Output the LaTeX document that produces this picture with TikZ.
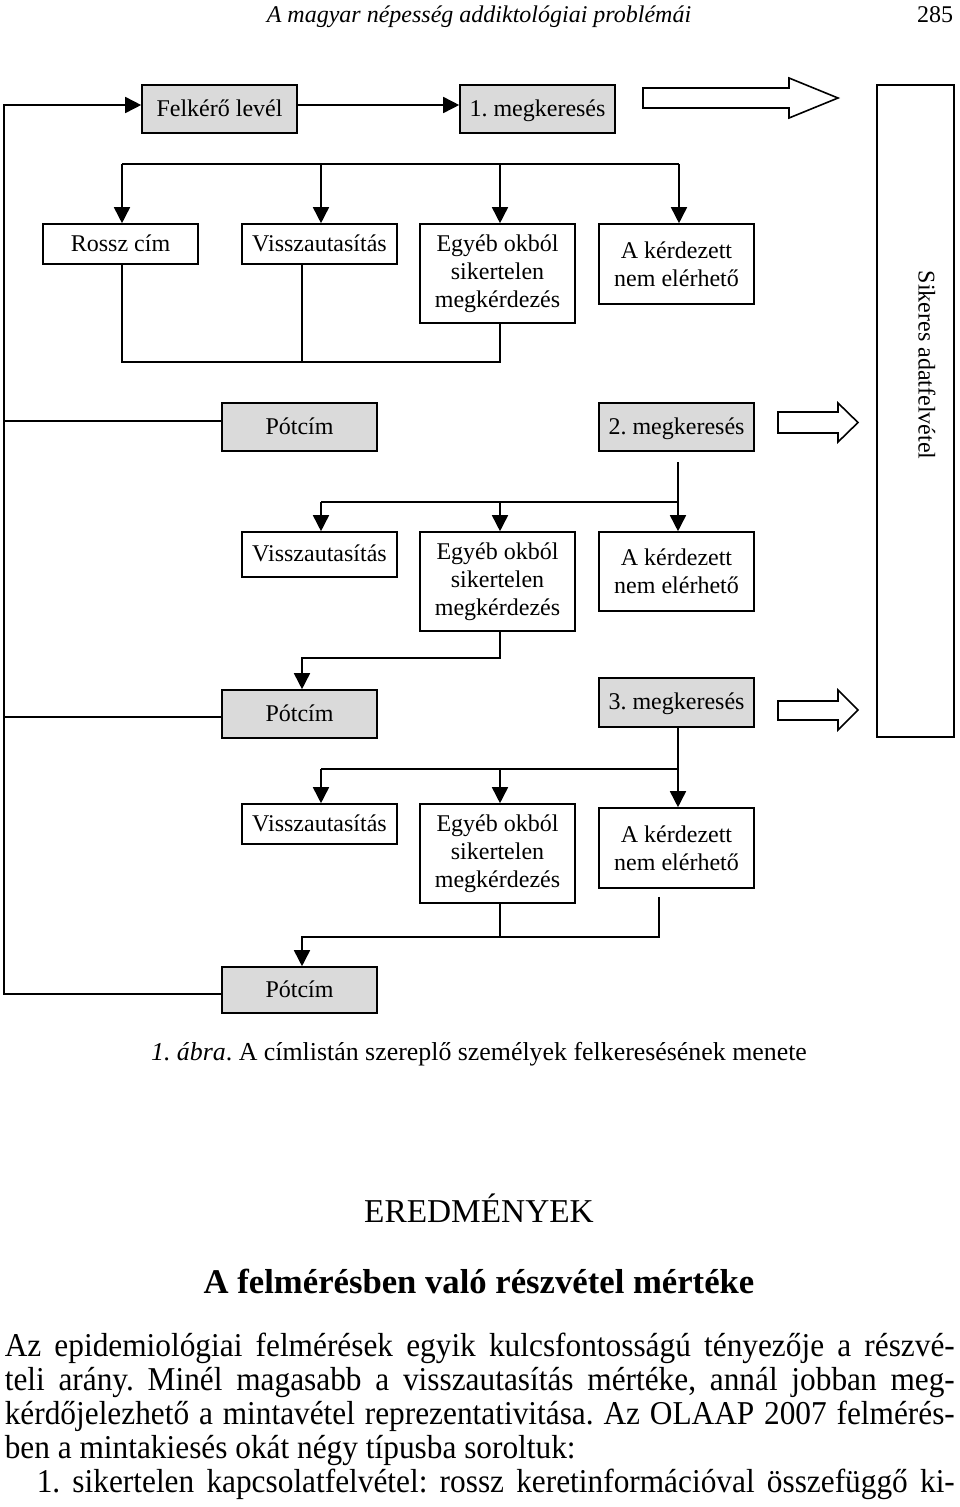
\documentclass[tikz,border=0pt]{standalone}
\usepackage{fontspec}
\setmainfont{Liberation Serif}
\newfontfamily\bodyfam[FakeStretch=0.94]{Liberation Serif}
\usetikzlibrary{arrows.meta}
\definecolor{boxgray}{RGB}{218,218,218}
\newcommand\boxfont{\fontsize{18}{21}\selectfont}
\newcommand\bodyfont{\bodyfam\fontsize{25}{30}\selectfont}
\frenchspacing
\tikzset{every picture/.style={line width=1.2pt}}
\tikzset{
  wbox/.style={draw, fill=white, minimum width=116.25pt, inner sep=0pt, align=center, font=\boxfont},
  one/.style={text height=13.5pt, text depth=2.5pt},
  gbox/.style={wbox, one, fill=boxgray, minimum height=36pt},
  arr/.style={-{Triangle[length=12pt,width=12pt]}},
  txt/.style={inner sep=0pt},
}

\begin{document}
\begin{tikzpicture}[x=0.75pt,y=0.75pt,yscale=-1,xscale=1]
\useasboundingbox (0,0) rectangle (960,1507);
% Text Node
\draw (479,22) node [txt, anchor=base, font=\boxfont\itshape] (hdr) {A magyar népesség addiktológiai problémái};
% Text Node
\draw (954,22) node [txt, anchor=base east, font=\boxfont] (pg) {285};

%Shape: Rectangle
\draw (915.5,411) node [wbox, minimum width=57.75pt, minimum height=489pt] (sa) {};
% Text Node
\draw (927,365) node [txt, rotate=-90, font=\boxfont] (sat) {Sikeres adatfelvétel};

% first contact
\draw (219.5,109) node [gbox] (fl) {Felkérő levél};
\draw (537.5,109) node [gbox] (m1) {1. megkeresés};
\draw (120.5,244) node [wbox, one, minimum height=30pt] (rc) {Rossz cím};
\draw (319.5,244) node [wbox, one, minimum height=30pt] (v1) {Visszautasítás};
\draw (497.5,273.5) node [wbox, minimum height=74.25pt] (e1) {Egyéb okból\\sikertelen\\megkérdezés};
\draw (676.5,264) node [wbox, minimum height=60pt] (k1) {A kérdezett\\nem elérhető};
\draw (299.5,427) node [gbox] (p1) {Pótcím};

% second contact
\draw (676.5,427) node [gbox] (m2) {2. megkeresés};
\draw (319.5,554.5) node [wbox, one, minimum height=33.75pt] (v2) {Visszautasítás};
\draw (497.5,581.5) node [wbox, minimum height=74.25pt] (e2) {Egyéb okból\\sikertelen\\megkérdezés};
\draw (676.5,571.5) node [wbox, minimum height=59.25pt] (k2) {A kérdezett\\nem elérhető};
\draw (299.5,714) node [gbox] (p2) {Pótcím};

% third contact
\draw (676.5,702.5) node [gbox, minimum height=36.75pt] (m3) {3. megkeresés};
\draw (319.5,824) node [wbox, one, minimum height=30pt] (v3) {Visszautasítás};
\draw (497.5,853.5) node [wbox, minimum height=74.25pt] (e3) {Egyéb okból\\sikertelen\\megkérdezés};
\draw (676.5,848) node [wbox, minimum height=60pt] (k3) {A kérdezett\\nem elérhető};
\draw (299.5,990) node [gbox, minimum height=34.5pt] (p3) {Pótcím};

%Shape: Right Arrow
\draw [fill=white] (643,88) -- (789,88) -- (789,78) -- (838,98) -- (789,118) -- (789,108) -- (643,108) -- cycle ;
%Shape: Right Arrow
\draw [fill=white] (778,412) -- (838,412) -- (838,403) -- (858,422.5) -- (838,442) -- (838,433) -- (778,433) -- cycle ;
%Shape: Right Arrow
\draw [fill=white] (778,701) -- (838,701) -- (838,690) -- (858,710) -- (838,730) -- (838,720) -- (778,720) -- cycle ;

% loop back to the letter
\coordinate (lt) at (4,105);
\coordinate (lb) at (4,994);
\coordinate (l1) at (4,421);
\coordinate (l2) at (4,717);
\draw [arr] (lb -| p3.west) -- (lb) -- (lt) -- (lt -| fl.west);
\draw (l1) -- (l1 -| p1.west);
\draw (l2) -- (l2 -| p2.west);
\draw [arr] (lt -| fl.east) -- (lt -| m1.west);

% branches of 1. megkeresés
\draw (122,164) -- (679,164);
\foreach \x/\n in {122/rc,321/v1,500/e1,679/k1}
  \draw [arr] (\x,164) -- (\n.north -| \x,164);
\draw (rc.south -| 122,0) -- (122,362) -- (500,362) -- (e1.south -| 500,0);
\draw (v1.south -| 302,0) -- (302,362);

% branches of 2. megkeresés
\draw [arr, shorten <=8pt] (m2.south -| 678,0) -- (k2.north -| 678,0);
\draw (321,502) -- (678,502);
\foreach \x/\n in {321/v2,500/e2}
  \draw [arr] (\x,502) -- (\n.north -| \x,502);
\draw [arr] (e2.south -| 500,0) -- (500,658) -- (302,658) -- (p2.north -| 302,0);

% branches of 3. megkeresés
\draw [arr] (m3.south -| 678,0) -- (k3.north -| 678,0);
\draw (321,769) -- (678,769);
\foreach \x/\n in {321/v3,500/e3}
  \draw [arr] (\x,769) -- (\n.north -| \x,769);
\draw [arr, shorten <=6pt] (k3.south -| 659,0) -- (659,937) -- (302,937) -- (p3.north -| 302,0);
\draw (e3.south -| 500,0) -- (500,937);

% Text Node
\draw (479,1060) node [txt, anchor=base, font=\fontsize{19.4}{23}\selectfont] (cap) {\textit{1. ábra}. A címlistán szereplő személyek felkeresésének menete};
% Text Node
\draw (479,1222) node [txt, anchor=base, font=\fontsize{25}{30}\selectfont] (h1) {EREDMÉNYEK};
% Text Node
\draw (479,1293) node [txt, anchor=base, font=\fontsize{26}{31}\selectfont\bfseries] (h2) {A felmérésben való részvétel mértéke};
% Text Node
\draw (4,1356) node [txt, anchor=base west, font=\bodyfont] (t1) {\makebox[712.5pt][s]{Az epidemiológiai felmérések egyik kulcsfontosságú tényezője a részvé-}};
\draw (4,1390) node [txt, anchor=base west, font=\bodyfont] (t2) {\makebox[712.5pt][s]{teli arány. Minél magasabb a visszautasítás mértéke, annál jobban meg-}};
\draw (4,1424) node [txt, anchor=base west, font=\bodyfont] (t3) {\makebox[712.5pt][s]{kérdőjelezhető a mintavétel reprezentativitása. Az OLAAP 2007 felmérés-}};
\draw (4,1458) node [txt, anchor=base west, font=\bodyfont] (t4) {ben a mintakiesés okát négy típusba soroltuk:};
\draw (36,1492) node [txt, anchor=base west, font=\bodyfont] (t5) {\makebox[688.5pt][s]{1. sikertelen kapcsolatfelvétel: rossz keretinformációval összefüggő ki-}};

\end{tikzpicture}
\end{document}
